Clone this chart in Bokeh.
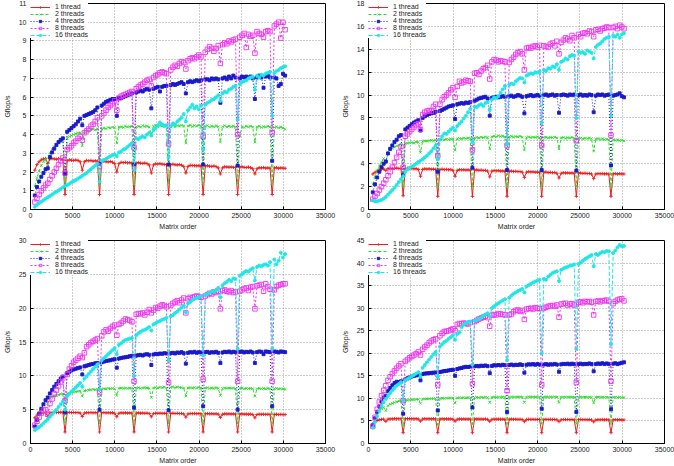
from bokeh.plotting import figure
from bokeh.layouts import gridplot
from bokeh.models import Range1d, FixedTicker, Legend, LegendItem, BasicTickFormatter
from bokeh.embed import file_html
from bokeh.resources import INLINE

# Matrix orders sampled every 256 from 512 to 30208
matrix_order = list(range(512, 30209, 256))
x_ticks = [0, 5000, 10000, 15000, 20000, 25000, 30000, 35000]
series_names = ["1 thread", "2 threads", "4 threads", "8 threads", "16 threads"]

# ---- machine A ----
p1_t1 = [2.1, 2.4, 2.55, 2.65, 2.7, 2.72, 2.45, 2.7, 2.72, 2.7, 2.68, 2.72, 2.7, 2.68,
         0.8, 2.6, 2.65, 2.63, 2.62, 2.64, 2.62, 2.55, 2.1, 2.55, 2.62, 2.6, 2.62, 2.58, 2.6, 2.58,
         0.8, 2.55, 2.57, 2.55, 2.54, 2.56, 2.52, 2.45, 2.0, 2.45, 2.52, 2.5, 2.52, 2.49, 2.5, 2.48,
         0.8, 2.48, 2.5, 2.47, 2.46, 2.48, 2.45, 2.38, 1.95, 2.38, 2.44, 2.43, 2.45, 2.42, 2.41, 2.4,
         0.8, 2.4, 2.42, 2.39, 2.38, 2.4, 2.37, 2.3, 1.95, 2.3, 2.36, 2.35, 2.34, 2.33, 2.34, 2.32,
         0.8, 2.33, 2.34, 2.31, 2.3, 2.32, 2.29, 2.22, 1.9, 2.22, 2.28, 2.27, 2.26, 2.27, 2.25, 2.25,
         0.8, 2.27, 2.28, 2.25, 2.24, 2.26, 2.23, 2.18, 1.9, 2.18, 2.23, 2.22, 2.24, 2.21, 2.22, 2.21,
         0.8, 2.22, 2.23, 2.2, 2.22, 2.21, 2.2]
p1_t2 = [1.25, 1.7, 2.05, 2.35, 2.55, 2.7, 2.15, 3.0, 3.2, 3.35, 3.45, 3.55, 3.62, 3.7,
         1.3, 3.8, 3.9, 3.95, 4.0, 4.05, 4.1, 4.1, 3.4, 4.15, 4.2, 4.2, 4.25, 4.28, 4.25, 4.3,
         1.35, 4.3, 4.35, 4.32, 4.38, 4.35, 4.4, 4.38, 3.55, 4.4, 4.42, 4.38, 4.45, 4.4, 4.42, 4.45,
         1.35, 4.42, 4.45, 4.4, 4.48, 4.43, 4.45, 4.4, 4.0, 4.45, 4.5, 4.42, 4.48, 4.45, 4.5, 4.46,
         1.4, 4.45, 4.5, 4.42, 4.48, 4.45, 4.5, 4.45, 3.55, 4.45, 4.5, 4.43, 4.48, 4.45, 4.5, 4.45,
         1.4, 4.45, 4.48, 4.4, 4.45, 4.42, 4.48, 4.42, 3.6, 4.42, 4.48, 4.4, 4.45, 4.42, 4.45, 4.4,
         1.4, 3.95, 4.42, 4.38, 4.45, 4.4, 4.45, 4.4, 3.6, 4.4, 4.45, 4.38, 4.42, 4.4, 4.45, 4.4,
         1.4, 4.38, 4.42, 4.36, 4.4, 4.35, 4.28]
p1_t4 = [0.75, 1.2, 1.5, 1.75, 1.95, 2.15, 2.2, 2.8, 3.05, 3.25, 3.45, 3.6, 3.72, 3.8,
         1.9, 4.15, 4.25, 4.35, 4.45, 4.55, 4.7, 4.85, 4.5, 5.0, 5.05, 5.1, 5.15, 5.2, 5.3, 5.45,
         2.45, 5.55, 5.65, 5.75, 5.8, 5.85, 5.9, 5.9, 5.0, 5.95, 5.95, 6.0, 6.05, 6.1, 6.15, 6.2,
         2.4, 6.25, 6.3, 6.35, 6.3, 6.4, 6.45, 6.4, 5.4, 6.45, 6.5, 6.55, 6.3, 6.55, 6.6, 6.6,
         2.4, 6.65, 6.7, 6.65, 6.7, 6.75, 6.8, 6.7, 6.2, 6.8, 6.85, 6.8, 6.85, 6.9, 6.85, 6.9,
         2.4, 6.95, 6.95, 6.9, 7.0, 6.95, 7.0, 6.95, 5.7, 7.0, 7.05, 6.95, 7.1, 7.0, 7.15, 7.05,
         2.35, 7.0, 7.1, 7.05, 7.1, 7.05, 7.1, 7.0, 5.9, 7.05, 7.15, 7.05, 6.5, 7.1, 7.15, 7.05,
         2.6, 7.05, 7.0, 6.6, 6.7, 7.25, 7.15]
p1_t8 = [0.4, 0.6, 0.8, 1.0, 1.15, 1.3, 1.4, 1.6, 1.8, 2.0, 2.2, 2.4, 2.6, 2.75,
         1.95, 3.2, 3.3, 3.4, 3.55, 3.65, 3.8, 3.9, 3.7, 4.1, 4.2, 4.3, 4.45, 4.55, 4.7, 4.9,
         2.3, 5.0, 5.15, 5.3, 5.45, 5.55, 5.65, 5.8, 5.3, 5.95, 6.05, 6.1, 6.15, 6.2, 6.25, 6.3,
         3.3, 6.45, 6.55, 6.65, 6.7, 6.8, 6.9, 6.95, 6.6, 7.05, 7.15, 7.2, 7.3, 7.35, 7.3, 7.25,
         3.5, 7.45, 7.6, 7.7, 7.65, 7.8, 7.9, 7.85, 7.5, 7.95, 8.05, 8.1, 8.05, 8.15, 8.25, 8.15,
         3.9, 8.4, 8.55, 8.7, 8.6, 8.45, 8.6, 8.75, 7.8, 8.8, 8.9, 8.85, 9.0, 8.95, 9.05, 9.1,
         4.0, 9.2, 9.3, 9.4, 8.65, 9.35, 9.25, 9.3, 8.35, 9.5, 9.4, 9.35, 9.2, 9.5, 9.55, 9.5,
         4.1, 9.8, 9.9, 10.0, 9.15, 10.0, 9.6]
p1_t16 = [0.15, 0.25, 0.35, 0.42, 0.5, 0.58, 0.65, 0.72, 0.8, 0.88, 0.95, 1.02, 1.1, 1.18,
          1.25, 1.3, 1.38, 1.45, 1.52, 1.58, 1.65, 1.72, 1.8, 1.88, 1.95, 2.05, 2.15, 2.25, 2.35, 2.45,
          1.5, 2.6, 2.65, 2.7, 2.78, 2.85, 2.9, 2.95, 2.85, 3.05, 3.1, 3.2, 3.25, 3.35, 3.45, 3.55,
          2.1, 3.8, 3.75, 3.85, 3.9, 3.85, 4.0, 4.1, 3.95, 4.25, 4.35, 4.5, 4.65, 4.55, 4.45, 4.5,
          2.8, 4.45, 4.6, 4.55, 4.7, 4.8, 4.9, 5.1, 4.7, 5.3, 5.45, 5.6, 5.4, 5.5, 5.35, 5.55,
          3.2, 5.6, 5.7, 5.75, 5.85, 5.9, 6.0, 6.1, 5.8, 6.2, 6.3, 6.25, 6.4, 6.45, 6.55, 6.6,
          4.8, 6.7, 6.8, 6.85, 6.9, 7.0, 7.05, 7.1, 6.4, 7.15, 7.05, 7.2, 7.15, 7.25, 7.3, 7.35,
          5.0, 7.3, 7.4, 7.45, 7.55, 7.6, 7.65]

# ---- machine B ----
p2_t1 = [3.1, 3.25, 3.35, 3.45, 3.5, 3.55, 3.4, 3.58, 3.6, 3.58, 3.6, 3.62, 3.58, 3.6,
         1.2, 3.58, 3.6, 3.57, 3.58, 3.55, 3.56, 3.5, 2.9, 3.5, 3.55, 3.53, 3.55, 3.52, 3.53, 3.5,
         1.15, 3.5, 3.52, 3.48, 3.5, 3.47, 3.49, 3.42, 2.9, 3.42, 3.48, 3.46, 3.47, 3.45, 3.46, 3.44,
         1.15, 3.45, 3.46, 3.42, 3.44, 3.41, 3.42, 3.36, 2.85, 3.36, 3.4, 3.38, 3.39, 3.36, 3.37, 3.35,
         1.15, 3.35, 3.36, 3.32, 3.34, 3.31, 3.32, 3.26, 2.8, 3.26, 3.3, 3.28, 3.29, 3.26, 3.27, 3.25,
         1.15, 3.26, 3.27, 3.23, 3.25, 3.22, 3.23, 3.17, 2.75, 3.17, 3.21, 3.19, 3.2, 3.18, 3.19, 3.17,
         1.15, 3.18, 3.19, 3.15, 3.17, 3.14, 3.15, 3.1, 2.7, 3.1, 3.14, 3.12, 3.13, 3.11, 3.12, 3.1,
         1.15, 3.12, 3.13, 3.1, 3.12, 3.11, 3.1]
p2_t2 = [2.2, 2.9, 3.4, 3.8, 4.15, 4.45, 4.1, 5.0, 5.2, 5.35, 5.45, 5.55, 5.62, 5.7,
         2.0, 5.75, 5.8, 5.82, 5.85, 5.8, 5.9, 5.88, 5.0, 5.95, 6.0, 5.98, 6.02, 6.05, 6.0, 6.08,
         2.0, 6.1, 6.12, 6.08, 6.15, 6.1, 6.18, 6.15, 5.2, 6.18, 6.22, 6.18, 6.25, 6.2, 6.25, 6.22,
         2.0, 6.25, 6.3, 6.25, 6.32, 6.28, 6.35, 6.3, 5.3, 6.35, 6.4, 6.35, 6.45, 6.38, 6.42, 6.35,
         2.0, 6.35, 6.4, 6.32, 6.38, 6.35, 6.4, 6.32, 5.2, 6.3, 6.35, 6.28, 6.32, 6.3, 6.35, 6.28,
         2.0, 6.3, 6.32, 6.25, 6.3, 6.28, 6.32, 6.25, 5.3, 6.25, 6.3, 6.22, 6.28, 6.25, 6.3, 6.22,
         2.0, 6.25, 6.22, 6.18, 6.22, 6.2, 6.25, 6.18, 5.1, 6.15, 6.2, 6.12, 6.18, 6.1, 6.15, 6.08,
         2.0, 6.1, 6.05, 6.08, 6.02, 6.05, 6.0]
p2_t4 = [1.5, 2.2, 2.8, 3.3, 3.7, 4.0, 4.2, 4.9, 5.3, 5.6, 5.9, 6.1, 6.4, 6.5,
         3.0, 7.0, 7.15, 7.3, 7.45, 7.6, 7.7, 7.8, 6.9, 8.0, 8.15, 8.25, 8.35, 8.4, 8.45, 8.55,
         3.3, 8.6, 8.7, 8.8, 8.9, 9.0, 9.05, 9.1, 7.9, 9.2, 9.25, 9.3, 9.25, 9.35, 9.3, 9.4,
         3.65, 9.5, 9.6, 9.7, 9.75, 9.8, 9.85, 9.7, 8.2, 9.75, 9.8, 9.85, 9.8, 9.85, 9.9, 9.85,
         3.45, 9.9, 9.95, 9.85, 9.9, 10.0, 9.95, 9.85, 8.4, 9.9, 9.95, 10.0, 9.9, 9.95, 10.0, 9.95,
         3.45, 10.0, 10.05, 9.95, 10.0, 10.05, 9.95, 10.0, 8.45, 10.0, 10.05, 10.0, 9.95, 10.05, 10.0, 10.05,
         3.4, 10.0, 10.05, 9.95, 10.0, 9.95, 10.05, 10.0, 8.5, 9.95, 10.05, 10.0, 10.05, 9.95, 10.0, 10.05,
         3.85, 9.95, 10.0, 10.05, 10.15, 9.9, 9.8]
p2_t8 = [0.9, 1.15, 1.4, 1.7, 2.0, 2.3, 2.6, 2.95, 3.3, 3.7, 4.1, 4.55, 5.0, 5.5,
         3.7, 6.4, 6.6, 6.8, 7.0, 7.2, 7.4, 7.5, 7.0, 8.3, 8.5, 8.6, 8.65, 8.6, 9.0, 9.2,
         4.7, 9.2, 9.6, 9.85, 10.0, 10.2, 10.45, 10.65, 9.8, 10.75, 11.2, 11.05, 11.15, 11.3, 11.25, 11.2,
         5.2, 11.9, 11.95, 11.8, 12.1, 12.3, 12.4, 12.6, 11.4, 12.9, 13.1, 13.05, 12.9, 13.0, 12.95, 12.9,
         5.6, 12.85, 13.1, 13.3, 13.55, 13.7, 13.8, 13.6, 12.2, 14.1, 14.15, 14.1, 14.25, 14.3, 14.2, 14.35,
         5.6, 14.3, 14.25, 14.2, 14.45, 14.55, 14.3, 14.7, 13.6, 14.6, 14.8, 15.0, 14.9, 14.75, 15.2, 15.0,
         6.0, 15.3, 15.1, 15.4, 15.45, 15.35, 15.6, 15.55, 15.1, 15.7, 15.75, 15.6, 15.8, 15.85, 15.95, 15.9,
         6.5, 15.9, 16.0, 15.8, 16.1, 15.95, 15.8]
p2_t16 = [0.8, 0.7, 0.72, 0.78, 0.85, 0.95, 1.1, 1.3, 1.5, 1.7, 1.9, 2.15, 2.4, 2.65,
          2.9, 3.3, 3.5, 3.65, 3.75, 3.85, 4.0, 4.15, 4.25, 4.4, 4.55, 4.7, 4.9, 5.1, 5.35, 5.6,
          4.4, 6.1, 6.4, 6.65, 6.6, 6.8, 7.0, 7.15, 6.9, 7.3, 7.5, 7.7, 7.95, 8.2, 8.5, 8.8,
          5.9, 9.0, 8.95, 9.1, 9.2, 9.05, 9.3, 9.4, 8.7, 9.6, 9.8, 9.75, 9.9, 10.2, 10.5, 10.8,
          5.7, 10.9, 11.0, 10.95, 11.2, 11.35, 11.5, 11.45, 11.1, 11.7, 11.8, 11.9, 11.85, 12.0, 11.95, 12.05,
          7.6, 12.2, 12.1, 12.35, 12.3, 12.5, 12.45, 12.7, 12.2, 12.9, 13.0, 13.2, 13.1, 13.4, 13.5, 13.45,
          8.0, 13.8, 13.7, 13.75, 13.6, 13.9, 13.8, 13.7, 13.2, 14.2, 14.4, 14.5, 14.7, 14.9, 15.0, 15.1,
          8.2, 15.2, 15.1, 15.3, 15.0, 15.3, 15.4]

# ---- machine C ----
p3_t1 = [3.8, 4.2, 4.4, 4.5, 4.55, 4.55, 4.0, 4.55, 4.58, 4.6, 4.58, 4.6, 4.62, 4.6,
         1.7, 4.58, 4.6, 4.57, 4.59, 4.56, 4.58, 4.5, 4.0, 4.5, 4.56, 4.55, 4.57, 4.54, 4.56, 4.55,
         1.7, 4.55, 4.57, 4.53, 4.55, 4.52, 4.54, 4.47, 3.95, 4.47, 4.53, 4.51, 4.53, 4.5, 4.52, 4.5,
         1.7, 4.5, 4.52, 4.48, 4.5, 4.47, 4.49, 4.42, 3.95, 4.42, 4.48, 4.46, 4.48, 4.45, 4.47, 4.45,
         1.7, 4.45, 4.47, 4.43, 4.45, 4.42, 4.44, 4.37, 3.9, 4.37, 4.43, 4.41, 4.43, 4.4, 4.42, 4.4,
         1.7, 4.4, 4.42, 4.38, 4.4, 4.37, 4.39, 4.32, 3.85, 4.32, 4.38, 4.36, 4.38, 4.35, 4.37, 4.35,
         1.7, 4.35, 4.37, 4.33, 4.35, 4.32, 4.34, 4.28, 3.8, 4.28, 4.33, 4.31, 4.33, 4.3, 4.32, 4.3,
         1.7, 4.3, 4.32, 4.28, 4.3, 4.28, 4.27]
p3_t2 = [2.5, 3.7, 4.6, 5.3, 5.8, 6.2, 5.9, 6.7, 6.9, 7.0, 7.1, 7.2, 7.3, 7.35,
         3.2, 7.4, 7.45, 7.55, 7.6, 7.65, 7.7, 7.75, 7.0, 7.8, 7.85, 7.9, 7.95, 8.0, 7.95, 8.05,
         3.0, 8.05, 8.1, 8.05, 8.15, 8.1, 8.15, 8.1, 7.1, 8.15, 8.2, 8.15, 8.2, 8.15, 8.2, 8.15,
         3.0, 8.2, 8.25, 8.15, 8.2, 8.25, 8.2, 8.15, 6.8, 8.2, 8.25, 8.2, 8.3, 8.25, 8.35, 8.2,
         3.0, 8.3, 8.4, 8.25, 8.35, 8.3, 8.25, 8.2, 7.0, 8.2, 8.25, 8.2, 8.25, 8.2, 8.3, 8.2,
         3.0, 8.2, 8.25, 8.15, 8.2, 8.15, 8.25, 8.15, 7.1, 8.15, 8.2, 8.15, 8.2, 8.15, 8.2, 8.1,
         3.0, 8.15, 8.2, 8.1, 8.15, 8.1, 8.15, 8.1, 7.0, 8.1, 8.15, 8.1, 8.15, 8.05, 8.15, 8.1,
         3.0, 8.1, 8.15, 8.05, 8.1, 8.05, 8.0]
p3_t4 = [2.5, 3.5, 4.4, 5.1, 5.8, 6.4, 6.8, 7.4, 7.9, 8.4, 8.8, 9.2, 9.6, 9.9,
         4.6, 10.4, 10.6, 10.8, 10.95, 11.05, 11.15, 11.25, 10.2, 11.4, 11.5, 11.6, 11.7, 11.75, 11.85, 11.9,
         5.0, 12.0, 12.1, 12.2, 12.25, 12.3, 12.4, 12.45, 11.2, 12.55, 12.65, 12.7, 12.75, 12.8, 12.9, 12.95,
         5.3, 13.0, 13.05, 13.1, 13.0, 13.15, 13.2, 13.1, 11.6, 13.15, 13.25, 13.2, 13.3, 13.25, 13.35, 13.3,
         4.9, 13.35, 13.4, 13.3, 13.45, 13.4, 13.5, 13.35, 11.8, 13.4, 13.5, 13.45, 13.55, 13.4, 13.5, 13.45,
         5.5, 13.5, 13.55, 13.4, 13.5, 13.45, 13.55, 13.4, 11.9, 13.45, 13.55, 13.5, 13.6, 13.45, 13.55, 13.5,
         5.0, 13.55, 13.6, 13.45, 13.55, 13.5, 13.6, 13.45, 11.9, 13.5, 13.6, 13.55, 13.2, 13.6, 13.55, 13.5,
         5.5, 13.6, 13.55, 13.45, 13.6, 13.55, 13.5]
p3_t8 = [2.7, 3.3, 3.9, 4.5, 4.9, 5.0, 4.3, 5.9, 6.6, 7.3, 7.9, 8.5, 9.1, 9.7,
         6.3, 10.2, 11.0, 11.5, 12.0, 12.3, 12.6, 12.9, 12.7, 13.4, 14.3, 14.6, 14.9, 15.1, 15.3, 15.5,
         7.6, 15.9, 16.5, 16.8, 16.6, 17.0, 17.3, 17.5, 16.0, 17.6, 17.8, 18.1, 18.4, 18.3, 18.2, 18.0,
         9.2, 19.1, 19.2, 19.15, 19.3, 19.0, 19.4, 19.8, 19.3, 19.7, 20.1, 20.0, 20.3, 20.5, 20.4, 20.2,
         9.0, 20.4, 20.7, 20.9, 21.1, 20.8, 21.2, 21.5, 19.3, 21.4, 21.6, 21.5, 21.7, 21.8, 21.7, 21.6,
         9.5, 21.8, 22.0, 22.2, 22.1, 22.4, 22.3, 22.5, 19.9, 22.6, 22.7, 22.5, 22.4, 22.6, 22.3, 22.4,
         9.2, 22.5, 22.7, 22.9, 23.0, 22.6, 23.1, 23.2, 19.9, 23.3, 23.4, 23.5, 22.5, 23.6, 23.2, 22.8,
         9.2, 22.7, 23.2, 23.4, 23.5, 23.6, 23.6]
p3_t16 = [2.0, 2.2, 2.45, 2.7, 3.0, 3.3, 3.6, 3.95, 4.3, 4.65, 5.0, 5.4, 5.8, 6.2,
          5.0, 7.0, 7.35, 7.7, 8.0, 8.3, 8.6, 8.95, 8.4, 9.6, 9.95, 10.3, 10.65, 11.0, 11.35, 11.7,
          8.0, 12.3, 12.6, 12.9, 13.2, 13.5, 13.8, 14.1, 13.2, 14.6, 14.8, 15.1, 15.3, 15.4, 15.5, 15.6,
          10.0, 16.0, 16.3, 16.5, 16.7, 16.8, 17.0, 17.2, 16.7, 17.6, 17.8, 18.0, 18.1, 18.3, 18.4, 18.6,
          12.3, 18.8, 19.0, 19.3, 19.5, 19.8, 20.1, 20.4, 19.4, 20.7, 20.9, 21.2, 21.4, 21.5, 21.6, 21.8,
          13.0, 22.0, 22.1, 22.3, 22.5, 22.4, 22.7, 23.0, 21.6, 23.4, 23.7, 23.9, 24.2, 24.0, 24.4, 24.3,
          14.0, 24.8, 25.0, 25.3, 25.5, 25.4, 25.7, 25.9, 24.1, 26.1, 26.3, 26.2, 26.4, 26.5, 26.3, 26.8,
          14.0, 27.2, 26.5, 27.0, 28.2, 27.5, 28.0]

# ---- machine D ----
p4_t1 = [4.4, 4.9, 5.1, 5.25, 5.35, 5.4, 4.9, 5.4, 5.45, 5.45, 5.5, 5.48, 5.5, 5.52,
         2.4, 5.5, 5.52, 5.48, 5.5, 5.47, 5.49, 5.42, 4.95, 5.42, 5.48, 5.46, 5.48, 5.45, 5.47, 5.45,
         2.4, 5.45, 5.47, 5.43, 5.45, 5.42, 5.44, 5.37, 4.95, 5.37, 5.43, 5.41, 5.43, 5.4, 5.42, 5.4,
         2.4, 5.42, 5.44, 5.4, 5.42, 5.39, 5.41, 5.34, 4.9, 5.34, 5.4, 5.38, 5.4, 5.37, 5.39, 5.37,
         2.4, 5.38, 5.4, 5.36, 5.38, 5.35, 5.37, 5.3, 4.85, 5.3, 5.36, 5.34, 5.36, 5.33, 5.35, 5.33,
         2.4, 5.34, 5.36, 5.32, 5.34, 5.31, 5.33, 5.26, 4.85, 5.26, 5.32, 5.3, 5.32, 5.29, 5.31, 5.29,
         2.4, 5.3, 5.32, 5.28, 5.3, 5.27, 5.29, 5.22, 4.8, 5.22, 5.28, 5.26, 5.28, 5.25, 5.27, 5.25,
         2.4, 5.26, 5.28, 5.24, 5.26, 5.23, 5.22]
p4_t2 = [4.0, 5.5, 6.5, 7.2, 7.7, 8.0, 7.3, 8.4, 8.7, 8.9, 9.1, 9.25, 9.4, 9.5,
         4.0, 9.55, 9.6, 9.65, 9.7, 9.72, 9.75, 9.8, 8.9, 9.85, 9.88, 9.9, 9.92, 9.95, 9.93, 9.98,
         4.2, 10.0, 10.05, 10.0, 10.08, 10.05, 10.1, 10.05, 9.0, 10.1, 10.15, 10.1, 10.15, 10.12, 10.18, 10.15,
         4.3, 10.2, 10.25, 10.18, 10.25, 10.2, 10.28, 10.2, 9.1, 10.22, 10.28, 10.22, 10.3, 10.25, 10.3, 10.25,
         4.4, 10.3, 10.35, 10.28, 10.32, 10.3, 10.35, 10.28, 9.1, 10.28, 10.35, 10.3, 10.35, 10.3, 10.35, 10.28,
         4.4, 10.3, 10.35, 10.28, 10.32, 10.28, 10.35, 10.28, 9.1, 10.28, 10.32, 10.28, 10.32, 10.28, 10.32, 10.25,
         4.4, 10.28, 10.32, 10.25, 10.3, 10.25, 10.3, 10.25, 9.0, 10.25, 10.3, 10.25, 10.3, 10.25, 10.28, 10.22,
         4.4, 10.25, 10.28, 10.22, 10.25, 10.22, 10.2]
p4_t4 = [4.0, 5.6, 7.0, 8.2, 9.3, 10.2, 10.6, 11.6, 12.3, 12.9, 13.4, 13.7, 13.6, 13.8,
         6.6, 14.2, 14.45, 14.65, 14.85, 15.0, 15.1, 15.2, 14.0, 15.4, 15.5, 15.55, 15.6, 15.65, 15.7, 15.75,
         7.3, 15.85, 15.95, 16.05, 16.1, 16.2, 16.3, 16.35, 15.0, 16.5, 16.65, 16.75, 16.9, 17.0, 16.95, 17.05,
         8.0, 17.1, 17.2, 17.1, 17.25, 17.2, 17.3, 17.15, 15.6, 17.2, 17.35, 17.3, 17.4, 17.3, 17.45, 17.35,
         7.0, 17.4, 17.5, 17.35, 17.45, 17.4, 17.55, 17.4, 15.7, 17.45, 17.55, 17.5, 17.6, 17.45, 17.6, 17.5,
         7.7, 17.5, 17.6, 17.45, 17.55, 17.5, 17.65, 17.5, 15.9, 17.55, 17.65, 17.6, 17.7, 17.55, 17.7, 17.6,
         7.0, 17.6, 17.7, 17.55, 17.65, 17.6, 17.75, 17.6, 16.0, 17.6, 17.75, 17.65, 17.8, 17.6, 17.75, 17.65,
         7.6, 17.7, 17.8, 17.6, 17.75, 17.9, 18.0]
p4_t8 = [3.8, 5.8, 7.6, 9.2, 10.6, 11.8, 12.8, 14.0, 14.8, 15.5, 16.1, 16.7, 17.2, 17.7,
         9.5, 18.2, 18.6, 19.0, 19.3, 19.6, 19.9, 20.3, 19.6, 20.9, 21.4, 21.8, 22.3, 22.7, 23.0, 23.2,
         13.0, 23.9, 24.4, 24.8, 24.9, 25.0, 25.2, 25.4, 25.0, 26.4, 26.6, 26.5, 26.7, 26.6, 26.5, 26.8,
         13.2, 27.0, 27.3, 27.6, 27.8, 28.0, 28.2, 27.9, 26.0, 28.4, 28.6, 28.5, 28.8, 28.7, 28.6, 28.5,
         11.7, 28.5, 28.7, 29.2, 29.5, 29.6, 29.3, 29.5, 27.5, 29.8, 29.9, 30.0, 29.8, 30.1, 30.0, 29.9,
         13.0, 30.0, 30.2, 30.4, 30.5, 30.6, 30.4, 30.7, 28.0, 30.9, 31.0, 31.1, 30.6, 30.9, 31.0, 30.7,
         13.5, 31.3, 31.4, 31.2, 31.5, 31.4, 31.5, 31.3, 28.5, 31.5, 31.6, 31.4, 31.7, 31.6, 31.8, 31.5,
         13.8, 31.0, 31.5, 31.8, 32.0, 32.1, 31.6]
p4_t16 = [3.5, 4.7, 6.0, 7.2, 8.3, 9.2, 9.9, 10.6, 11.2, 11.8, 12.3, 12.8, 13.2, 13.6,
          9.6, 14.0, 14.3, 14.6, 14.9, 15.2, 15.5, 15.8, 14.8, 16.8, 17.4, 18.0, 18.6, 19.2, 19.8, 20.3,
          14.8, 21.5, 22.0, 22.5, 22.8, 23.2, 23.6, 24.0, 23.0, 24.3, 24.6, 25.8, 26.4, 26.7, 26.9, 27.0,
          17.5, 27.2, 27.4, 27.6, 27.9, 28.3, 28.6, 28.9, 28.2, 30.0, 30.4, 30.8, 31.1, 31.4, 31.7, 32.0,
          18.5, 32.3, 32.8, 33.2, 33.5, 33.8, 34.0, 34.3, 33.5, 34.8, 35.1, 35.4, 35.7, 35.9, 36.1, 36.3,
          20.0, 36.5, 36.3, 37.0, 37.4, 37.8, 38.0, 38.2, 36.0, 38.5, 38.8, 39.0, 39.2, 39.4, 39.5, 39.7,
          21.0, 39.8, 40.1, 40.5, 40.9, 41.2, 41.5, 41.8, 39.3, 42.0, 41.8, 42.2, 42.5, 42.4, 42.7, 42.6,
          22.0, 42.2, 42.8, 43.5, 44.0, 43.7, 43.8]

# line colour, dash, marker, marker size, filled
styles = [
    ("#ee1c1c", "solid", "cross", 3.5, True),
    ("#2ddc2d", "3 2", "x", 3.5, True),
    ("#1a1acc", "1 2", "square", 3.0, True),
    ("#ee33ee", "2 2", "square", 4.5, False),
    ("#1ee6e6", "4 2", "circle", 3.0, True),
]

FONT = "Liberation Sans"
TEXT_COLOR = "#222222"


def panel(series, ymax, ystep, left, right, top, bottom):
    p = figure(width=337, height=233, output_backend="svg", toolbar_location=None,
               x_range=Range1d(0, 35000), y_range=Range1d(0, ymax),
               min_border_left=left, min_border_right=right,
               min_border_top=top, min_border_bottom=bottom,
               background_fill_color="white", border_fill_color="white")
    p.outline_line_color = "black"
    p.outline_line_width = 1

    p.xaxis.ticker = FixedTicker(ticks=x_ticks)
    p.yaxis.ticker = FixedTicker(ticks=list(range(0, ymax + 1, ystep)))
    p.xaxis.formatter = BasicTickFormatter(use_scientific=False)
    p.axis.major_tick_in = 3
    p.axis.major_tick_out = 0
    p.axis.minor_tick_line_color = None
    p.axis.axis_line_color = "black"
    p.axis.major_tick_line_color = "black"
    p.axis.major_label_text_font = FONT
    p.axis.major_label_text_font_size = "7px"
    p.axis.major_label_text_color = TEXT_COLOR
    p.axis.axis_label_text_font = FONT
    p.axis.axis_label_text_font_size = "7px"
    p.axis.axis_label_text_font_style = "normal"
    p.axis.axis_label_text_color = TEXT_COLOR
    p.xaxis.axis_label = "Matrix order"
    p.yaxis.axis_label = "Gflop/s"
    p.xaxis.major_label_standoff = 3
    p.yaxis.major_label_standoff = 4
    p.xaxis.axis_label_standoff = 2
    p.yaxis.axis_label_standoff = 5

    p.grid.grid_line_color = "#9c9c9c"
    p.grid.grid_line_dash = "1 2"
    p.grid.grid_line_width = 1

    items = []
    for name, ys, (color, dash, marker, size, filled) in zip(series_names, series, styles):
        assert len(ys) == len(matrix_order), (name, len(ys))
        lr = p.line(matrix_order, ys, line_color=color, line_dash=dash, line_width=1)
        sr = p.scatter(matrix_order, ys, marker=marker, size=size, line_color=color,
                       fill_color=color if filled else None, line_width=0.9)
        items.append(LegendItem(label=name, renderers=[lr, sr]))

    legend = Legend(items=items, location="top_left", margin=0, padding=3, spacing=0,
                    glyph_width=20, glyph_height=6, label_height=6, label_standoff=5,
                    label_text_font=FONT, label_text_font_size="7px",
                    label_text_color=TEXT_COLOR, label_text_line_height=1.0,
                    background_fill_color="white", background_fill_alpha=1.0,
                    border_line_color=None)
    p.add_layout(legend)
    return p


fig_a = panel([p1_t1, p1_t2, p1_t4, p1_t8, p1_t16], 11, 1, 28, 12, 3, 24)
fig_b = panel([p2_t1, p2_t2, p2_t4, p2_t8, p2_t16], 18, 2, 31, 10, 3, 24)
fig_c = panel([p3_t1, p3_t2, p3_t4, p3_t8, p3_t16], 30, 5, 28, 12, 7, 19)
fig_d = panel([p4_t1, p4_t2, p4_t4, p4_t8, p4_t16], 45, 5, 31, 9, 7, 19)

grid = gridplot([[fig_a, fig_b], [fig_c, fig_d]], toolbar_location=None)

open("out.html", "w").write(file_html(grid, INLINE))
